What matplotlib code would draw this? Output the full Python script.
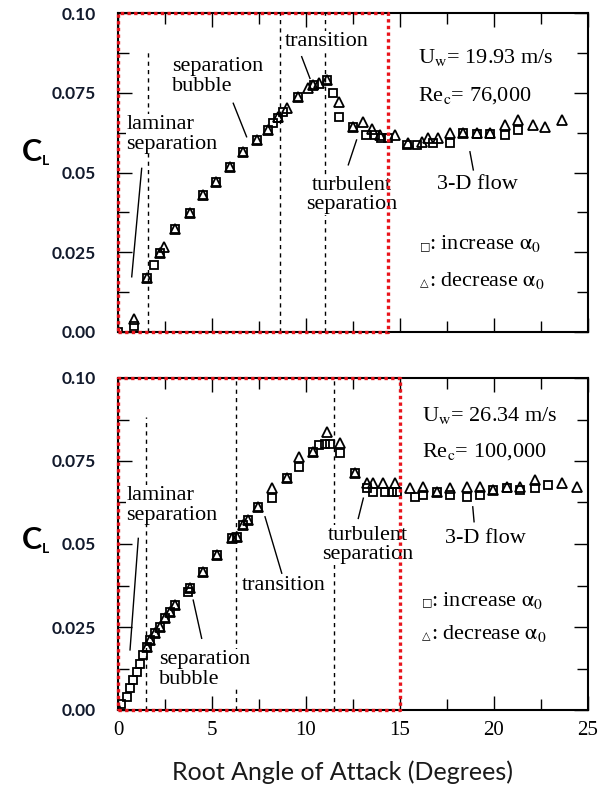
import numpy as np
import matplotlib
matplotlib.use("Agg")
from matplotlib import pyplot as plt
from matplotlib.ticker import MultipleLocator

plt.rcParams['mathtext.fontset'] = 'stix'

# ---- data ----
# top panel (Uw = 19.93 m/s)
top_inc_x = [0, 0.85, 1.56, 1.93, 2.23, 3.03, 3.83, 4.50, 5.21, 5.96, 6.63, 7.38, 8.0, 8.27,
             8.53, 8.8, 9.55, 10.4, 11.1, 11.45, 11.76, 12.48, 13.19, 13.67, 14.0, 14.37,
             15.35, 15.88, 16.77, 17.66, 18.37, 19.08, 19.79, 20.59, 21.29]
top_inc_y = [0.0, 0.002, 0.0168, 0.021, 0.0247, 0.0322, 0.0374, 0.0429, 0.0471, 0.0516,
             0.0565, 0.0602, 0.0633, 0.0654, 0.067, 0.0691, 0.0736, 0.0774, 0.079, 0.0748,
             0.0675, 0.0644, 0.0618, 0.0618, 0.0607, 0.0607, 0.0586, 0.0586, 0.0591, 0.0591,
             0.0625, 0.062, 0.062, 0.0618, 0.0633]
top_dec_x = [0.87, 1.56, 2.23, 2.46, 3.03, 3.83, 4.50, 5.21, 5.96, 6.63, 7.38, 8.0, 8.53,
             8.97, 9.59, 10.12, 10.39, 10.71, 11.1, 11.76, 12.48, 13.05, 13.49, 13.94, 14.73,
             15.44, 16.15, 16.5, 17.04, 17.66, 18.37, 19.08, 19.79, 20.59, 21.29, 22.09,
             22.71, 23.6]
top_dec_y = [0.004, 0.0168, 0.0247, 0.0267, 0.0322, 0.0374, 0.0429, 0.0471, 0.0516, 0.0565,
             0.0602, 0.0633, 0.0675, 0.0701, 0.0738, 0.0764, 0.0774, 0.0782, 0.079, 0.0722,
             0.0644, 0.0659, 0.0635, 0.0618, 0.0618, 0.0591, 0.0597, 0.0607, 0.0607, 0.0623,
             0.0625, 0.0623, 0.0623, 0.0649, 0.0665, 0.0649, 0.0643, 0.0665]

# bottom panel (Uw = 26.34 m/s)
bot_inc_x = [0.16, 0.46, 0.64, 0.82, 0.99, 1.17, 1.35, 1.52, 1.70, 1.97, 2.23, 2.5, 2.77,
             3.03, 3.74, 3.83, 4.54, 5.25, 6.05, 6.31, 6.67, 6.93, 7.46, 8.2, 8.97, 9.65,
             10.37, 10.7, 11.01, 11.28, 11.8, 12.61, 13.26, 13.58, 14.2, 14.56, 14.82, 15.8,
             16.24, 16.95, 17.66, 18.55, 19.26, 19.96, 20.67, 21.38, 22.18, 22.89]
bot_inc_y = [0.0018, 0.004, 0.0065, 0.009, 0.0115, 0.014, 0.0166, 0.019, 0.0211, 0.0231,
             0.0251, 0.0276, 0.0296, 0.0316, 0.0356, 0.0367, 0.0417, 0.0467, 0.0517, 0.0522,
             0.0557, 0.0572, 0.0612, 0.0639, 0.0698, 0.0733, 0.0776, 0.0798, 0.0801, 0.0801,
             0.0773, 0.0713, 0.0668, 0.0658, 0.0658, 0.0658, 0.0658, 0.0643, 0.0648, 0.0658,
             0.0648, 0.0643, 0.0648, 0.0663, 0.0668, 0.0663, 0.0668, 0.0678]
bot_dec_x = [0.0, 1.52, 1.70, 1.97, 2.23, 2.5, 2.77, 3.03, 3.83, 4.54, 5.25, 6.05, 6.31, 6.67,
             6.93, 7.46, 8.2, 8.97, 9.65, 10.37, 11.1, 11.8, 12.61, 13.26, 13.58, 14.11,
             14.73, 15.53, 16.24, 16.95, 17.66, 18.55, 19.26, 19.96, 20.67, 21.38, 22.18,
             23.6, 24.4]
bot_dec_y = [0.0005, 0.019, 0.0211, 0.0231, 0.0251, 0.0276, 0.0296, 0.0316, 0.0367, 0.0417,
             0.0467, 0.0517, 0.0522, 0.0557, 0.0572, 0.0612, 0.0668, 0.0698, 0.0763, 0.0778,
             0.0838, 0.0803, 0.0713, 0.0683, 0.0683, 0.0683, 0.0683, 0.0668, 0.0673, 0.0658,
             0.0668, 0.0673, 0.0673, 0.0663, 0.0673, 0.0673, 0.0693, 0.0683, 0.0673]

# regime boundaries (dashed) and the red highlight box limit
top_bounds = [1.62, 8.6, 11.0]
top_bound_tops = [0.0878, 0.1, 0.1]
bot_bounds = [1.48, 6.3, 11.5]
bot_bound_tops = [0.0883, 0.1, 0.1]
top_box_right = 14.35
bot_box_right = 15.0

ytick_vals = [0, 0.025, 0.05, 0.075, 0.10]
ytick_labels = ['0.00', '0.025', '0.05', '0.075', '0.10']
xtick_vals = [0, 5, 10, 15, 20, 25]

serif = ['Liberation Serif', 'DejaVu Serif']
tsize = 16

fig = plt.figure(figsize=(6.03, 8.01), dpi=100)
ax1 = fig.add_axes([118/603, 1-332/801, 470/603, 319/801])
ax2 = fig.add_axes([118/603, 1-710/801, 470/603, 332/801])


def setup(ax, xlabels):
    ax.set_xlim(0, 25)
    ax.set_ylim(0, 0.10)
    ax.set_xticks(xtick_vals)
    ax.xaxis.set_minor_locator(MultipleLocator(2.5))
    ax.set_yticks(ytick_vals)
    ax.set_yticklabels(ytick_labels, fontfamily='Lato', fontweight='bold',
                       fontsize=12.5, color='#121a2c')
    ax.yaxis.set_minor_locator(MultipleLocator(0.0125))
    ax.tick_params(which='both', direction='in', top=True, right=True, width=1)
    ax.tick_params(which='major', length=10)
    ax.tick_params(which='minor', length=8)
    ax.tick_params(axis='y', pad=16)
    ax.tick_params(axis='x', pad=8)
    if xlabels:
        ax.set_xticklabels([str(v) for v in xtick_vals], fontfamily=serif, fontsize=15)
    else:
        ax.set_xticklabels([])
    for s in ax.spines.values():
        s.set_linewidth(1.5)


def panel(ax, inc_x, inc_y, dec_x, dec_y, bounds, bound_tops, box_right):
    ax.plot(inc_x, inc_y, 's', mfc='none', mec='black', ms=6, mew=1.3, zorder=3)
    ax.plot(dec_x, dec_y, '^', mfc='none', mec='black', ms=6.5, mew=1.3, zorder=3)
    for x, t in zip(bounds, bound_tops):
        ax.plot([x, x], [0, t], color='black', lw=1, ls=(0, (3, 3)), zorder=1)
    ax.plot([0, box_right, box_right, 0, 0], [0, 0, 0.1, 0.1, 0], color='#e8141c',
            lw=2.4, ls=(0, (1, 1)), clip_on=False, zorder=6)


def note(ax, x, y, s, ha='left', white=False):
    kw = dict(fontfamily=serif, fontsize=tsize, ha=ha, va='center', zorder=4,
              linespacing=1.05)
    if white:
        kw['bbox'] = dict(facecolor='white', edgecolor='none', pad=0.5)
    ax.text(x, y, s, **kw)


def key(ax, x, y, sym, s):
    # small open-symbol key followed by its description
    ax.text(x, y - 0.0006, sym, fontfamily='DejaVu Sans', fontsize=8, ha='left',
            va='center')
    note(ax, x + 0.5, y, s)


def pointer(ax, x0, y0, x1, y1):
    ax.plot([x0, x1], [y0, y1], color='black', lw=1, zorder=2)


setup(ax1, False)
setup(ax2, True)

alpha0 = r'$\mathrm{\alpha}_0$'

# top panel
panel(ax1, top_inc_x, top_inc_y, top_dec_x, top_dec_y, top_bounds, top_bound_tops, top_box_right)
note(ax1, 0.45, 0.062, 'laminar\nseparation', white=True)
pointer(ax1, 1.26, 0.0513, 0.73, 0.0173)
note(ax1, 2.87, 0.0802, 'separation\nbubble', white=True)
pointer(ax1, 6.13, 0.0717, 6.84, 0.0612)
note(ax1, 8.85, 0.0912, 'transition', white=True)
pointer(ax1, 9.77, 0.0863, 10.21, 0.0795)
note(ax1, 12.45, 0.0429, 'turbulent\nseparation', ha='center', white=True)
pointer(ax1, 12.69, 0.0602, 12.25, 0.0524)
note(ax1, 16.97, 0.0461, '3-D flow')
pointer(ax1, 18.72, 0.0565, 18.9, 0.0508)
note(ax1, 15.95, 0.0859, r'U$_\mathrm{w}$= 19.93 m/s')
note(ax1, 15.95, 0.074, r'Re$_\mathrm{c}$= 76,000')
key(ax1, 16.05, 0.0276, '\u25a1', ': increase ' + alpha0)
key(ax1, 16.05, 0.016, '\u25b3', ': decrease ' + alpha0)

# bottom panel
panel(ax2, bot_inc_x, bot_inc_y, bot_dec_x, bot_dec_y, bot_bounds, bot_bound_tops, bot_box_right)
note(ax2, 0.45, 0.0617, 'laminar\nseparation', white=True)
pointer(ax2, 1.08, 0.0517, 0.64, 0.0181)
note(ax2, 2.2, 0.0123, 'separation\nbubble', white=True)
pointer(ax2, 4.0, 0.0331, 4.45, 0.0216)
note(ax2, 6.6, 0.0374, 'transition', white=True)
pointer(ax2, 7.82, 0.0582, 8.71, 0.0412)
note(ax2, 13.3, 0.0497, 'turbulent\nseparation', ha='center', white=True)
pointer(ax2, 13.05, 0.0638, 12.78, 0.0577)
note(ax2, 17.4, 0.0518, '3-D flow')
pointer(ax2, 18.87, 0.0612, 18.94, 0.0567)
note(ax2, 16.15, 0.0886, r'U$_\mathrm{w}$= 26.34 m/s')
note(ax2, 16.15, 0.0777, r'Re$_\mathrm{c}$= 100,000')
key(ax2, 16.15, 0.0331, '\u25a1', ': increase ' + alpha0)
key(ax2, 16.15, 0.0229, '\u25b3', ': decrease ' + alpha0)

# C_L labels and shared x label
for yc in [1-152/801, 1-540/801]:
    fig.text(22/603, yc, 'C', fontfamily='Lato', fontweight='bold', fontsize=22,
             ha='left', va='center')
    fig.text(42/603, yc-9/801, 'L', fontfamily='Lato', fontweight='bold', fontsize=10,
             ha='left', va='center')

fig.text(342/603, 1-772/801, 'Root Angle of Attack (Degrees)', fontfamily='Lato',
         fontsize=18, ha='center', va='center', color='#1a1a1a')

fig.savefig('out.png', dpi=100, facecolor='white')
